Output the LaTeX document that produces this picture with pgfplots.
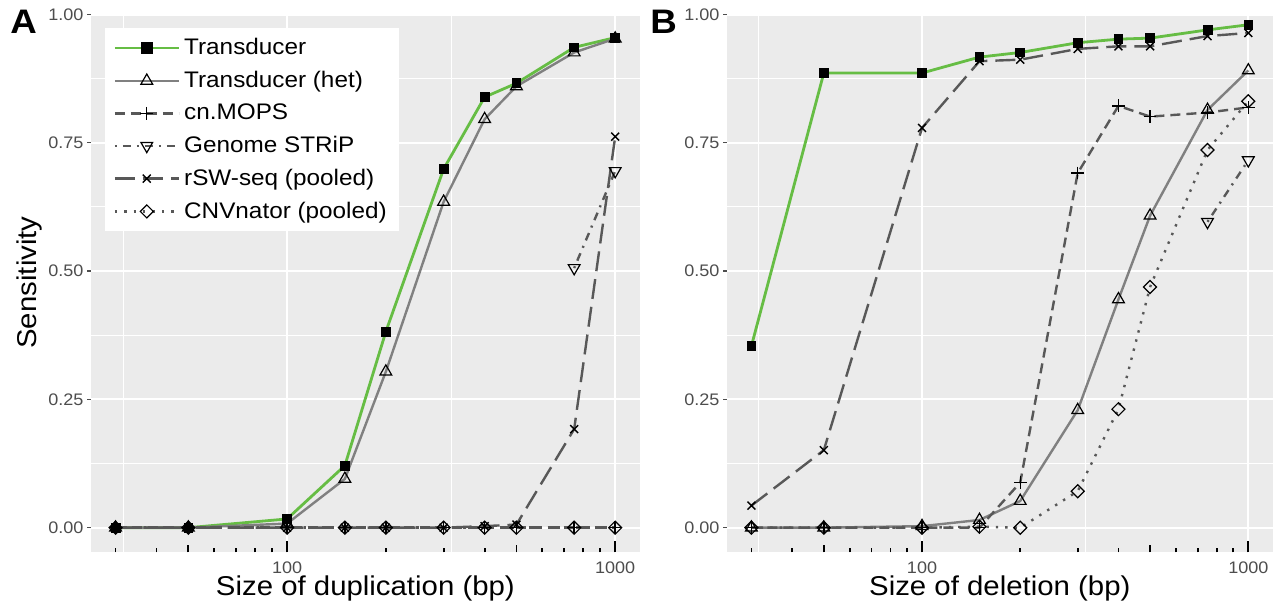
\documentclass[border=0pt]{standalone}
\usepackage{fontspec}
\setmainfont{Liberation Sans}[FakeStretch=1.08]
\usepackage{pgfplots}
\pgfplotsset{compat=1.18}
\usepackage{pgfplotstable}

\definecolor{panelbg}{RGB}{235,235,235}
\definecolor{tdgreen}{RGB}{102,189,68}
\definecolor{hetgray}{RGB}{128,128,128}
\definecolor{dashgray}{RGB}{88,88,88}
\definecolor{ticktext}{RGB}{77,77,77}

% Sensitivity by duplication size
\pgfplotstableread{
x    td     het    cnmops rsw    cnv
30   0.000  0.000  0      0.000  0
50   0.000  0.000  0      0.000  0
100  0.017  0.008  0      0.000  0
150  0.121  0.095  0      0.000  0
200  0.382  0.304  0      0.000  0
300  0.699  0.635  0      0.000  0
400  0.839  0.796  0      0.003  0
500  0.866  0.860  0      0.006  0
750  0.936  0.926  0      0.192  0
1000 0.955  0.953  0      0.762  0
}\dupdata
\pgfplotstableread{
x    gs
750  0.506
1000 0.695
}\dupgs

% Sensitivity by deletion size
\pgfplotstableread{
x    td     het    cnmops rsw    cnv
30   0.354  0.000  0.000  0.043  0.000
50   0.886  0.000  0.000  0.151  0.000
100  0.886  0.003  0.000  0.779  0.000
150  0.917  0.015  0.000  0.909  0.002
200  0.926  0.052  0.088  0.912  0.000
300  0.945  0.229  0.691  0.933  0.071
400  0.952  0.445  0.822  0.938  0.231
500  0.954  0.608  0.801  0.938  0.469
750  0.970  0.814  0.809  0.958  0.736
1000 0.980  0.891  0.819  0.964  0.831
}\deldata
\pgfplotstableread{
x    gs
750  0.596
1000 0.716
}\delgs

\newcommand{\ticksize}{\fontsize{8.35pt}{10pt}\selectfont}
\newcommand{\legsize}{\fontsize{11.25pt}{13pt}\selectfont}
\newcommand{\titlesize}{\fontsize{13.6pt}{16pt}\selectfont}

\tikzset{
  tdline/.style={tdgreen, line width=1.4pt},
  hetline/.style={hetgray, line width=1.2pt},
  cnline/.style={dashgray, line width=1.2pt, dash pattern=on 5pt off 3pt},
  gsline/.style={dashgray, line width=1.2pt, dash pattern=on 1pt off 3pt on 4pt off 3pt},
  rswline/.style={dashgray, line width=1.2pt, dash pattern=on 10pt off 4pt},
  cnvline/.style={dashgray, line width=1.2pt, dash pattern=on 1.2pt off 3.5pt},
  tdmark/.style={mark=square*, mark size=2.2pt, mark options={solid, black, fill=black}},
  hetmark/.style={mark=triangle, mark size=3.4pt, mark options={solid, black, line width=0.6pt}},
  cnmark/.style={mark=+, mark size=3.2pt, mark options={solid, black, line width=0.7pt}},
  gsmark/.style={mark=triangle, mark size=3.4pt, mark options={solid, black, line width=0.6pt, rotate=180}},
  rswmark/.style={mark=x, mark size=2.8pt, mark options={solid, black, line width=0.7pt}},
  cnvmark/.style={mark=square, mark size=2.3pt, mark options={solid, black, line width=0.6pt, rotate=45}},
}

\begin{document}
\begin{tikzpicture}
\path[use as bounding box] (0pt,0pt) rectangle (640pt,-303pt);

% ---------- panel A: duplications ----------
% background and grid
\begin{axis}[
  scale only axis, height=268.9pt, width=274.65pt,
  at={(45.35pt,-276.15pt)}, anchor=south west,
  xmode=log, xmin=25.2, xmax=1190.5, ymin=-0.048, ymax=1.0,
  axis line style={draw=none},
  axis background/.style={fill=panelbg},
  xtick={100,1000}, minor xtick={31.62,316.2},
  ytick={0,0.25,0.5,0.75,1}, minor ytick={0.125,0.375,0.625,0.875},
  grid=both,
  major grid style={white, line width=1pt},
  minor grid style={white, line width=0.5pt},
  xticklabels={,}, major x tick style={draw=none},
  minor tick length=0pt,
  yticklabels={0.00,0.25,0.50,0.75,1.00},
  tick pos=left, ytick align=outside, major tick length=1.8pt,
  major y tick style={ticktext, line width=0.6pt},
  yticklabel style={font=\ticksize, text=ticktext, inner sep=1.6pt},
]
\end{axis}
% data, log ticks and legend
\begin{axis}[
  scale only axis, height=268.9pt, width=274.65pt,
  at={(45.35pt,-276.15pt)}, anchor=south west,
  xmode=log, xmin=25.2, xmax=1190.5, ymin=-0.048, ymax=1.0,
  axis line style={draw=none},
  xtick={100,1000}, xticklabels={100,1000},
  minor xtick={30,40,60,70,80,90,200,300,400,600,700,800,900},
  extra x ticks={50,500}, extra x tick labels={,},
  extra x tick style={major tick length=3.5pt},
  ytick=\empty,
  tick pos=left, xtick align=inside,
  major tick length=5.5pt, minor tick length=2pt,
  every tick/.style={black, line width=0.9pt},
  xticklabel style={font=\ticksize, text=ticktext, yshift=-1pt},
  legend style={at={(axis description cs:0.026,0.975)}, anchor=north west,
    draw=none, fill=white, inner xsep=4pt, inner ysep=3pt, row sep=2.75pt,
    font=\legsize},
  legend cell align=left,
  legend image code/.code={\draw[mark repeat=2,mark phase=2,#1] plot coordinates {(0pt,0pt) (16pt,0pt) (32pt,0pt)};},
]
  \addlegendimage{tdline, tdmark}
  \addlegendentry{Transducer}
  \addlegendimage{hetline, hetmark}
  \addlegendentry{Transducer (het)}
  \addlegendimage{cnline, cnmark}
  \addlegendentry{cn.MOPS}
  \addlegendimage{gsline, gsmark}
  \addlegendentry{Genome STRiP}
  \addlegendimage{rswline, rswmark}
  \addlegendentry{rSW-seq (pooled)}
  \addlegendimage{cnvline, cnvmark}
  \addlegendentry{CNVnator (pooled)}

  \addplot[tdline, forget plot] table[x=x, y=td] {\dupdata};
  \addplot[hetline, forget plot] table[x=x, y=het] {\dupdata};
  \addplot[cnline, forget plot] table[x=x, y=cnmops] {\dupdata};
  \addplot[gsline, forget plot] table[x=x, y=gs] {\dupgs};
  \addplot[rswline, forget plot] table[x=x, y=rsw] {\dupdata};
  \addplot[cnvline, forget plot] table[x=x, y=cnv] {\dupdata};

  \addplot[only marks, tdmark, forget plot] table[x=x, y=td] {\dupdata};
  \addplot[only marks, hetmark, forget plot] table[x=x, y=het] {\dupdata};
  \addplot[only marks, cnmark, forget plot] table[x=x, y=cnmops] {\dupdata};
  \addplot[only marks, gsmark, forget plot] table[x=x, y=gs] {\dupgs};
  \addplot[only marks, rswmark, forget plot] table[x=x, y=rsw] {\dupdata};
  \addplot[only marks, cnvmark, forget plot] table[x=x, y=cnv] {\dupdata};
\end{axis}

% ---------- panel B: deletions ----------
\begin{axis}[
  scale only axis, height=268.9pt, width=273.15pt,
  at={(363.35pt,-276.15pt)}, anchor=south west,
  xmode=log, xmin=25.2, xmax=1190.5, ymin=-0.048, ymax=1.0,
  axis line style={draw=none},
  axis background/.style={fill=panelbg},
  xtick={100,1000}, minor xtick={31.62,316.2},
  ytick={0,0.25,0.5,0.75,1}, minor ytick={0.125,0.375,0.625,0.875},
  grid=both,
  major grid style={white, line width=1pt},
  minor grid style={white, line width=0.5pt},
  xticklabels={,}, major x tick style={draw=none},
  minor tick length=0pt,
  yticklabels={0.00,0.25,0.50,0.75,1.00},
  tick pos=left, ytick align=outside, major tick length=1.8pt,
  major y tick style={ticktext, line width=0.6pt},
  yticklabel style={font=\ticksize, text=ticktext, inner sep=1.6pt},
]
\end{axis}
\begin{axis}[
  scale only axis, height=268.9pt, width=273.15pt,
  at={(363.35pt,-276.15pt)}, anchor=south west,
  xmode=log, xmin=25.2, xmax=1190.5, ymin=-0.048, ymax=1.0,
  axis line style={draw=none},
  xtick={100,1000}, xticklabels={100,1000},
  minor xtick={30,40,60,70,80,90,200,300,400,600,700,800,900},
  extra x ticks={50,500}, extra x tick labels={,},
  extra x tick style={major tick length=3.5pt},
  ytick=\empty,
  tick pos=left, xtick align=inside,
  major tick length=5.5pt, minor tick length=2pt,
  every tick/.style={black, line width=0.9pt},
  xticklabel style={font=\ticksize, text=ticktext, yshift=-1pt},
]
  \addplot[tdline] table[x=x, y=td] {\deldata};
  \addplot[hetline] table[x=x, y=het] {\deldata};
  \addplot[cnline] table[x=x, y=cnmops] {\deldata};
  \addplot[gsline] table[x=x, y=gs] {\delgs};
  \addplot[rswline] table[x=x, y=rsw] {\deldata};
  \addplot[cnvline] table[x=x, y=cnv] {\deldata};

  \addplot[only marks, tdmark] table[x=x, y=td] {\deldata};
  \addplot[only marks, hetmark] table[x=x, y=het] {\deldata};
  \addplot[only marks, cnmark] table[x=x, y=cnmops] {\deldata};
  \addplot[only marks, gsmark] table[x=x, y=gs] {\delgs};
  \addplot[only marks, rswmark] table[x=x, y=rsw] {\deldata};
  \addplot[only marks, cnvmark] table[x=x, y=cnv] {\deldata};
\end{axis}

% panel tags and axis titles
\node[anchor=base west, inner sep=0pt, font=\fontsize{17pt}{20pt}\selectfont\bfseries] at (5pt,-16.5pt) {A};
\node[anchor=base west, inner sep=0pt, font=\fontsize{17pt}{20pt}\selectfont\bfseries] at (325pt,-16.5pt) {B};
\node[anchor=base, rotate=90, inner sep=0pt, font=\titlesize] at (18pt,-141.25pt) {Sensitivity};
\node[anchor=base, inner sep=0pt, font=\titlesize] at (182.7pt,-297.5pt) {Size of duplication (bp)};
\node[anchor=base, inner sep=0pt, font=\titlesize] at (499.9pt,-297.5pt) {Size of deletion (bp)};
\end{tikzpicture}
\end{document}
